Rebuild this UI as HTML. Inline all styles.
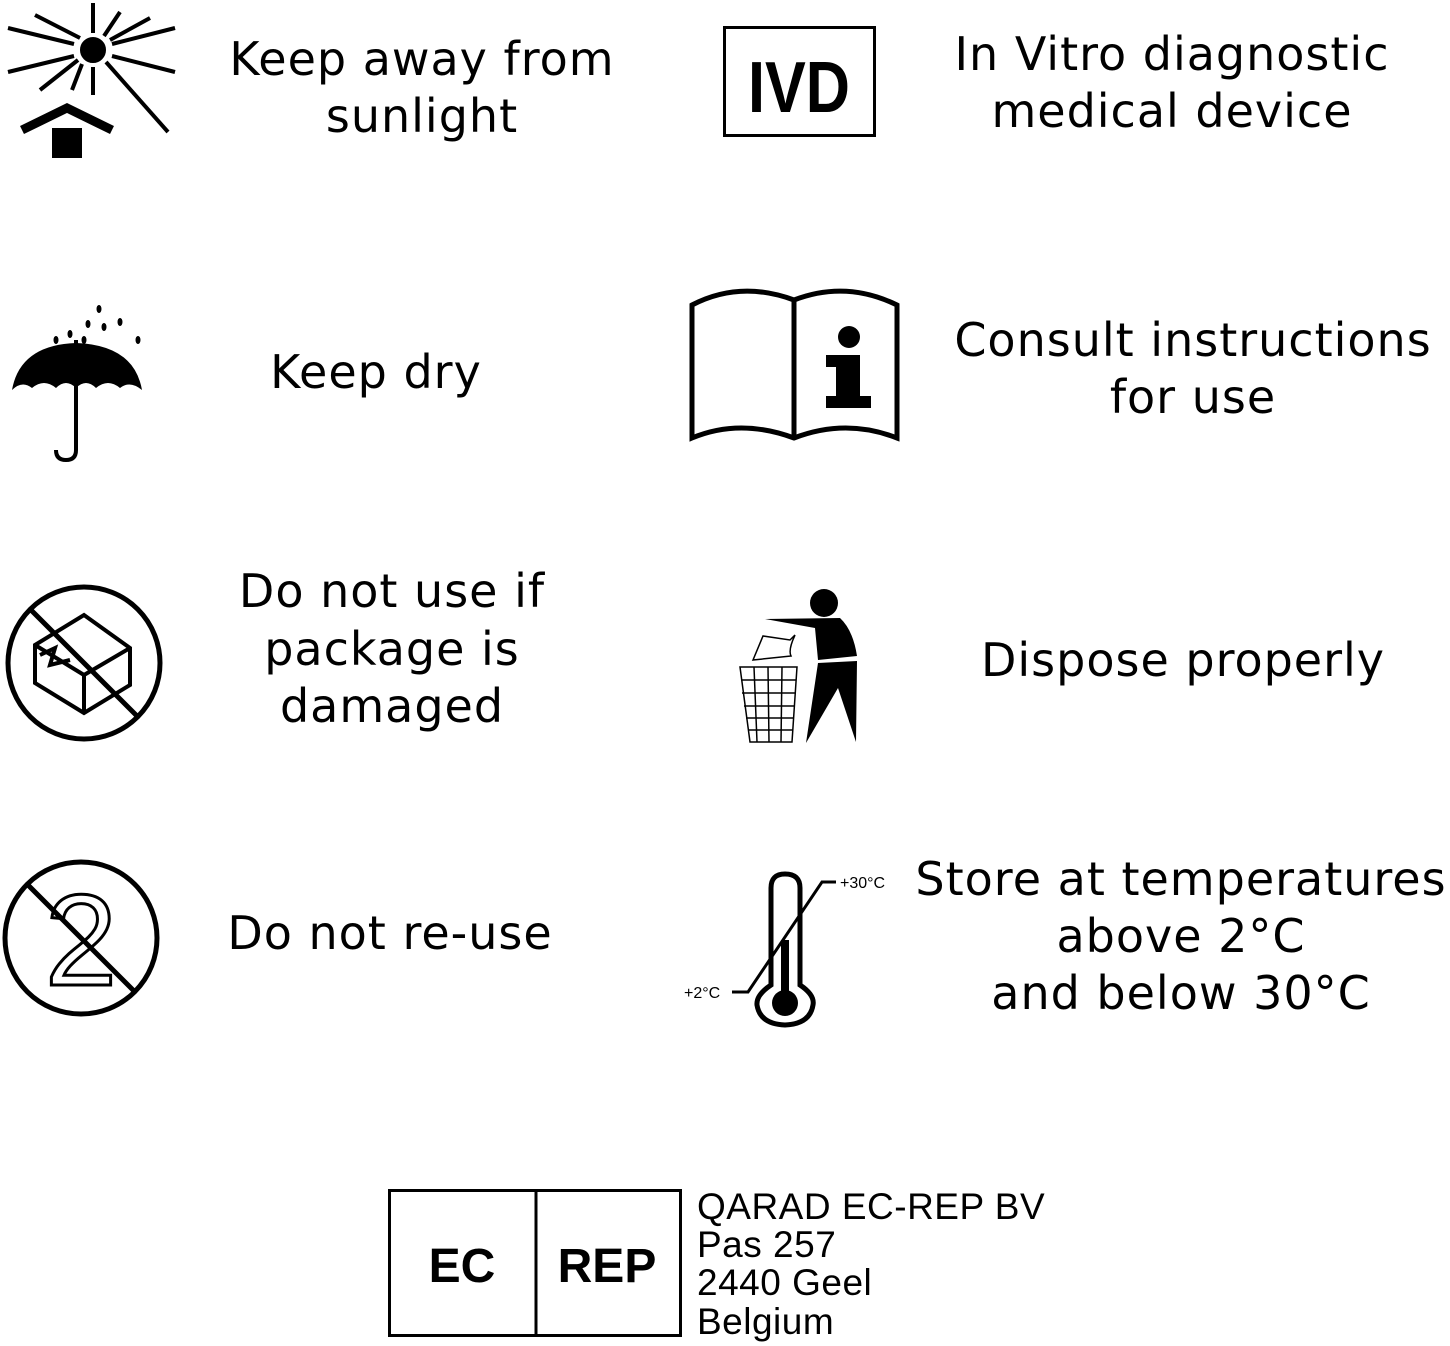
<!DOCTYPE html>
<html><head><meta charset="utf-8"><style>
html,body{margin:0;padding:0;background:#fff;}
svg{display:block;}
.t{font-family:"DejaVu Sans",sans-serif;font-size:46px;fill:#000;text-anchor:middle;letter-spacing:1px;}
.a{font-family:"Liberation Sans",sans-serif;font-size:37px;fill:#000;letter-spacing:0.5px;}
</style></head><body>
<svg width="1450" height="1346" viewBox="0 0 1450 1346" xmlns="http://www.w3.org/2000/svg">
<g stroke="#000" stroke-width="4" fill="none">
<circle cx="93" cy="50" r="11" fill="#000"/>
<line x1="93" y1="3" x2="93" y2="33"/><line x1="93" y1="67" x2="93" y2="95"/>
<line x1="8" y1="72" x2="74" y2="56"/><line x1="112" y1="44" x2="175" y2="28"/>
<line x1="8" y1="28" x2="74" y2="44"/><line x1="112" y1="56" x2="175" y2="72"/>
<line x1="35" y1="15" x2="80" y2="38"/><line x1="106" y1="62" x2="168" y2="132"/>
<line x1="120" y1="12" x2="104" y2="36"/><line x1="82" y1="64" x2="72" y2="90"/>
<line x1="150" y1="18" x2="110" y2="40"/><line x1="40" y1="90" x2="78" y2="60"/>
</g>
<polyline points="22,130 67,108 112,130" stroke="#000" stroke-width="9" fill="none"/>
<rect x="52" y="128" width="30" height="30" fill="#000"/>
<rect x="724.5" y="27.5" width="150" height="108" fill="none" stroke="#000" stroke-width="3"/>
<text x="799" y="112" font-family="Liberation Sans Narrow,Liberation Sans,sans-serif" font-weight="bold" font-size="72" text-anchor="middle" transform="translate(799 0) scale(0.85 1) translate(-799 0)">IVD</text>
<path d="M12 390 Q20 345 76 343 Q134 345 142 390 Q130 380 120 388 Q108 378 96 388 Q86 378 76 388 Q66 378 56 388 Q44 378 32 388 Q22 380 12 390 Z" fill="#000"/>
<path d="M76 340 L76 450 Q76 460 66 460 Q56 460 56 450" stroke="#000" stroke-width="4" fill="none"/>
<g fill="#000"><ellipse cx="99" cy="309" rx="2.5" ry="4"/><ellipse cx="120" cy="322" rx="2.5" ry="4"/><ellipse cx="88" cy="324" rx="2.5" ry="4"/><ellipse cx="104" cy="327" rx="2.5" ry="4"/><ellipse cx="70" cy="334" rx="2.5" ry="4"/><ellipse cx="56" cy="340" rx="2.5" ry="4"/><ellipse cx="138" cy="340" rx="2.5" ry="4"/><ellipse cx="84" cy="340" rx="2.5" ry="4"/></g>
<g stroke="#000" stroke-width="5" fill="none">
<path d="M692 305 Q740 280 794 300 Q846 280 897 305 L897 438 Q846 418 794 438 Q740 418 692 438 Z"/>
<line x1="794" y1="300" x2="794" y2="438"/>
</g>
<circle cx="849" cy="337" r="11" fill="#000"/>
<path d="M826 355 L860 355 L860 396 L871 396 L871 408 L826 408 L826 396 L836 396 L836 367 L826 367 Z" fill="#000"/>
<circle cx="84" cy="663" r="76" fill="none" stroke="#000" stroke-width="5"/>
<line x1="30" y1="609" x2="138" y2="717" stroke="#000" stroke-width="5"/>
<g stroke="#000" stroke-width="4" fill="none">
<path d="M35 645 L84 615 L130 648 L130 685 L84 713 L35 683 Z"/>
<path d="M35 645 L84 675 L130 648 M84 675 L84 713"/>
<path d="M40 655 L55 648 L50 665 L70 660"/>
</g>
<circle cx="81" cy="938" r="76" fill="none" stroke="#000" stroke-width="5"/>
<line x1="27" y1="884" x2="135" y2="992" stroke="#000" stroke-width="5"/>
<text x="81" y="985" font-family="Liberation Sans,sans-serif" font-size="130" text-anchor="middle" fill="none" stroke="#000" stroke-width="3">2</text>
<circle cx="824" cy="603" r="14" fill="#000"/>
<path d="M765 619 L840 618 Q853 630 857 656 L818 660 L815 628 Z" fill="#000"/>
<path d="M818 663 L857 661 L856 742 L838 688 L806 743 Z" fill="#000"/>
<path d="M753 660 L763 636 L790 640 L795 635 Q788 650 791 656 L753 660 Z" fill="none" stroke="#000" stroke-width="1.5"/>
<g stroke="#000" stroke-width="1.5" fill="none">
<path d="M740 667 L797 667 L792 742 L750 742 Z"/>
<line x1="741" y1="680" x2="796" y2="680"/><line x1="742" y1="693" x2="795" y2="693"/><line x1="744" y1="706" x2="794" y2="706"/><line x1="746" y1="718" x2="793" y2="718"/><line x1="748" y1="730" x2="793" y2="730"/>
<line x1="754" y1="667" x2="757" y2="742"/><line x1="768" y1="667" x2="769" y2="742"/><line x1="782" y1="667" x2="781" y2="742"/>
</g>
<path d="M771 985 L771 888 Q771 874 785 874 Q800 874 800 888 L800 985 Q815 995 813 1005 Q810 1024 785 1025 Q760 1024 757 1005 Q756 995 771 985 Z" fill="none" stroke="#000" stroke-width="5"/>
<circle cx="785" cy="1003" r="13" fill="#000"/>
<rect x="781" y="940" width="8" height="60" fill="#000"/>
<polyline points="732,992 748,992 822,882 836,882" fill="none" stroke="#000" stroke-width="3"/>
<text x="684" y="998" font-family="Liberation Sans,sans-serif" font-size="16">+2°C</text>
<text x="840" y="888" font-family="Liberation Sans,sans-serif" font-size="16">+30°C</text>
<text class="t" x="422" y="75">Keep away from</text>
<text class="t" x="422" y="132">sunlight</text>
<text class="t" x="376" y="388">Keep dry</text>
<text class="t" x="392" y="607">Do not use if</text>
<text class="t" x="392" y="665">package is</text>
<text class="t" x="392" y="722">damaged</text>
<text class="t" x="390" y="949">Do not re-use</text>
<text class="t" x="1172" y="70">In Vitro diagnostic</text>
<text class="t" x="1172" y="127">medical device</text>
<text class="t" x="1193" y="356">Consult instructions</text>
<text class="t" x="1193" y="413">for use</text>
<text class="t" x="1183" y="676">Dispose properly</text>
<text class="t" x="1181" y="895">Store at temperatures</text>
<text class="t" x="1181" y="952">above 2°C</text>
<text class="t" x="1181" y="1009">and below 30°C</text>
<rect x="389.5" y="1190.5" width="291" height="145" fill="none" stroke="#000" stroke-width="3"/>
<line x1="536" y1="1190" x2="536" y2="1336" stroke="#000" stroke-width="3"/>
<text x="462" y="1282" font-family="Liberation Sans,sans-serif" font-weight="bold" font-size="48" text-anchor="middle">EC</text>
<text x="607" y="1282" font-family="Liberation Sans,sans-serif" font-weight="bold" font-size="48" text-anchor="middle">REP</text>
<text class="a" x="697" y="1219">QARAD EC-REP BV</text>
<text class="a" x="697" y="1257">Pas 257</text>
<text class="a" x="697" y="1295">2440 Geel</text>
<text class="a" x="697" y="1334">Belgium</text>
</svg>
</body></html>
